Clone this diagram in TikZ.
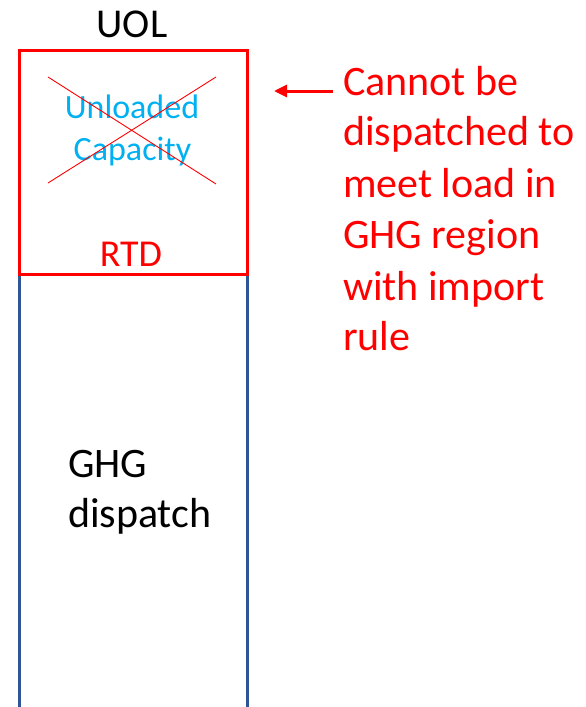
\documentclass[tikz,border=0pt]{standalone}
\usepackage{fontspec}
\setmainfont{Carlito}
\usetikzlibrary{arrows.meta}
\definecolor{pptred}{RGB}{255,0,0}
\definecolor{pptcyan}{RGB}{0,176,240}
\definecolor{pptblue}{RGB}{47,85,151}
\tikzset{
  txt/.style={inner sep=0pt, outer sep=0pt},
  big/.style={font=\fontsize{42}{51}\selectfont},
  redbox/.style={draw=pptred, line width=3pt},
  rail/.style={draw=pptblue, line width=3pt},
  strike/.style={draw=pptred, line width=0.9pt},
}
\begin{document}
\begin{tikzpicture}[x=1pt, y=-1pt]
  \useasboundingbox (0,0) rectangle (586,707);

  % blue column sides below the box
  \coordinate (lt) at (19,274.5);
  \coordinate (lb) at (19,707);
  \coordinate (rt) at (247,274.5);
  \coordinate (rb) at (247,707);
  \draw[rail] (lt) -- (lb);
  \draw[rail] (rt) -- (rb);

  % red box for the unloaded capacity
  \coordinate (boxnw) at (19,50.5);
  \coordinate (boxse) at (247,274.5);
  \draw[redbox] (boxnw) rectangle (boxse);

  % cross over the unloaded capacity
  \coordinate (x1) at (48,77);
  \coordinate (x2) at (216,184);
  \coordinate (x3) at (48,183);
  \coordinate (x4) at (216,77);

  \node[txt, anchor=base, font=\fontsize{41}{49}\selectfont] (uol) at (132,37) {UOL};
  \node[txt, anchor=base, text=pptcyan, font=\fontsize{34}{41}\selectfont] (unl) at (132,118) {Unloaded};
  \node[txt, anchor=base, text=pptcyan, font=\fontsize{34}{41}\selectfont] (cap) at (132.5,160) {Capacity};
  \draw[strike] (x1) -- (x2);
  \draw[strike] (x3) -- (x4);
  \node[txt, anchor=base, text=pptred, font=\fontsize{38}{46}\selectfont] (rtd) at (131,266) {RTD};

  % GHG dispatch label
  \node[txt, anchor=base west, big] (ghg) at (68,477) {GHG};
  \node[txt, anchor=base west, big] (dsp) at (68,527) {dispatch};

  % explanatory note with arrow
  \node[txt, anchor=base west, big, text=pptred] (n1) at (343,95) {Cannot be};
  \node[txt, anchor=base west, big, text=pptred] (n2) at (343,145) {dispatched to};
  \node[txt, anchor=base west, big, text=pptred] (n3) at (343,197) {meet load in};
  \node[txt, anchor=base west, big, text=pptred] (n4) at (343,248) {GHG region};
  \node[txt, anchor=base west, big, text=pptred] (n5) at (343,300) {with import};
  \node[txt, anchor=base west, big, text=pptred] (n6) at (343,350) {rule};
  \coordinate (tip) at (274,91);
  \draw[pptred, line width=3pt, -{Triangle[length=13pt,width=12pt]}] (n1.west |- tip) ++(-10,0) -- (tip);
\end{tikzpicture}
\end{document}
